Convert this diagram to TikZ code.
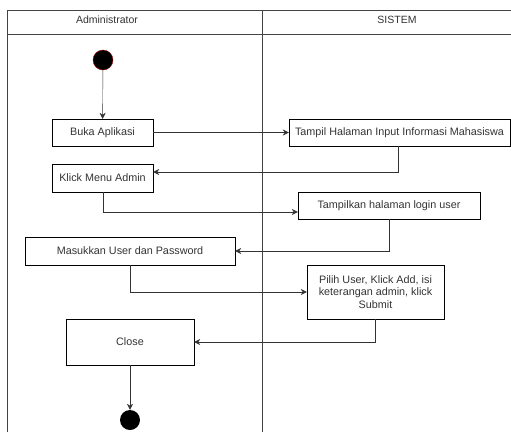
\documentclass[tikz,border=0pt]{standalone}
\usepackage{fontspec}
\setmainfont{Liberation Sans}
\usetikzlibrary{arrows.meta}
\definecolor{txt}{HTML}{333333}
\definecolor{lane}{HTML}{444444}
\tikzset{
  act/.style={draw=black, rectangle, inner sep=0pt, text=txt, align=center,
    font=\fontsize{10.8}{12.6}\selectfont},
  flow/.style={draw=txt, -{Stealth[length=6pt,width=6pt]}},
  dot/.style={circle, fill=black, minimum size=20pt, inner sep=0pt}
}
\begin{document}
\begin{tikzpicture}[x=1pt, y=-1pt]
\useasboundingbox (0,0) rectangle (511,432);
% swimlanes
\draw [lane] (7,432) -- (7,10) -- (511,10);
\draw [lane] (7,34) -- (511,34);
\draw [lane] (262,10) -- (262,432);
\node [text=txt, font=\fontsize{10.5}{12.5}\selectfont] (admin) at (107,20) {Administrator};
\node [text=txt, font=\fontsize{10.5}{12.5}\selectfont] (sistem) at (397,20) {SISTEM};
% nodes
\node [dot, draw=red!60!black] (start) at (103,60) {};
\node [act, minimum width=101pt, minimum height=27pt] (buka) at (102.5,132.5) {Buka Aplikasi};
\node [act, minimum width=221pt, minimum height=27pt] (tampil) at (399.5,132.5) {Tampil Halaman Input Informasi Mahasiswa};
\node [act, minimum width=101pt, minimum height=28pt] (klick) at (102.5,178) {Klick Menu Admin};
\node [act, minimum width=182pt, minimum height=27pt] (login) at (389,205.5) {Tampilkan halaman login user};
\node [act, minimum width=210pt, minimum height=28pt] (masuk) at (130,251) {Masukkan User dan Password};
\node [act, minimum width=137pt, minimum height=54pt] (pilih) at (375.5,292) {Pilih User, Klick Add, isi\\keterangan admin, klick\\Submit};
\node [act, minimum width=128pt, minimum height=46pt] (close) at (130,342) {Close};
\node [dot] (end) at (130,420) {};
% flows
\draw [flow] (start) -- (buka);
\draw [flow] (buka) -- (tampil);
\draw [flow] ([xshift=-1.5pt]tampil.south) |- ([yshift=6pt]klick.east);
\draw [flow] ([xshift=0.5pt]klick.south) |- ([yshift=-6.5pt]login.west);
\draw [flow] (login.south) |- (masuk.east);
\draw [flow] (masuk.south) |- (pilih.west);
\draw [flow] (pilih.south) |- (close.east);
\draw [flow] (close) -- (end);
\end{tikzpicture}
\end{document}
